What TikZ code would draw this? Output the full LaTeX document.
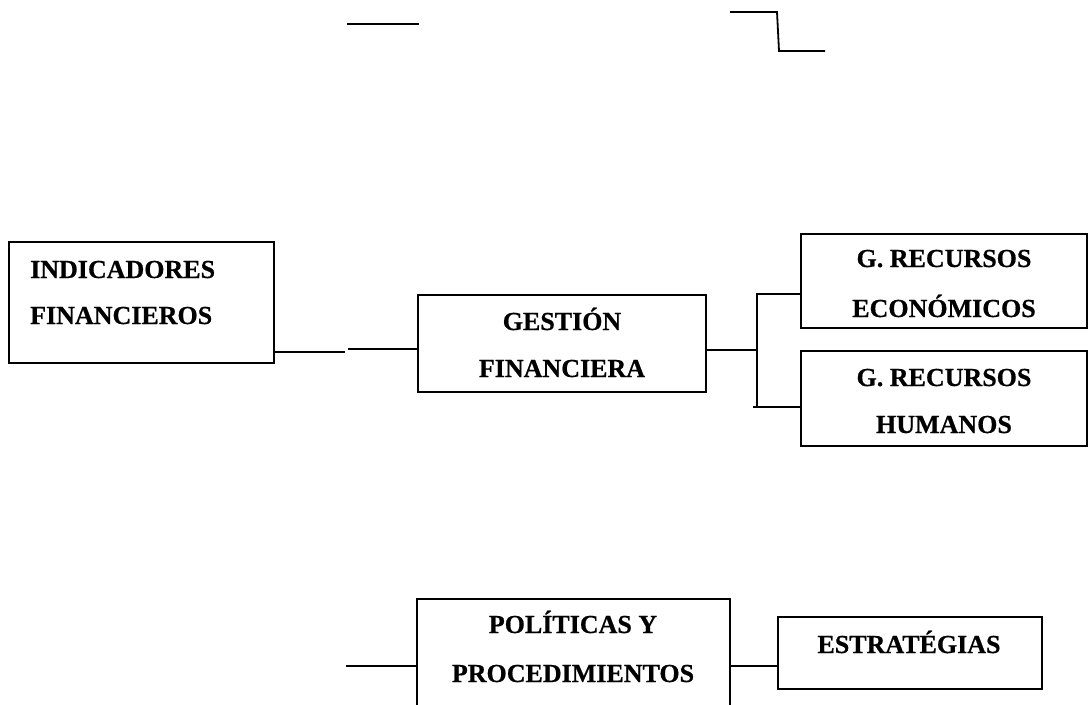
\documentclass[tikz,border=0pt]{standalone}
\usepackage{fontspec}
\newfontfamily\tnr[BoldFeatures={FakeBold=0.6}]{Liberation Serif}
\begin{document}
\begin{tikzpicture}[x=1pt,y=-1pt,
  box/.style={draw, line width=1.8pt, inner sep=0pt, outer sep=0pt, anchor=north west},
  lbl/.style={font=\tnr\bfseries\fontsize{26}{30}\selectfont, inner sep=0pt, anchor=base},
  lblw/.style={lbl, anchor=base west},
  wire/.style={line width=1.8pt}]
\useasboundingbox (0,0) rectangle (1089,704);
\clip (0,0) rectangle (1089,704);
% boxes
\node[box, minimum width=265pt, minimum height=121pt] (ind) at (9,242) {};
\node[box, minimum width=288pt, minimum height=97pt] (gest) at (418,295) {};
\node[box, minimum width=286pt, minimum height=94pt] (eco) at (801,234) {};
\node[box, minimum width=286pt, minimum height=95pt] (hum) at (801,351) {};
\node[box, minimum width=313pt, minimum height=125pt] (pol) at (417,599) {};
\node[box, minimum width=264pt, minimum height=72pt] (est) at (778,617) {};
% texts
\node[lblw] (ind1) at (30,278) {INDICADORES};
\node[lblw] (ind2) at (30,324) {FINANCIEROS};
\node[lbl] (g1) at (562,330) {GESTIÓN};
\node[lbl] (g2) at (562,377) {FINANCIERA};
\node[lbl] (e1) at (944,267) {G. RECURSOS};
\node[lbl] (e2) at (944,317) {ECONÓMICOS};
\node[lbl] (h1) at (944,386) {G. RECURSOS};
\node[lbl] (h2) at (944,433) {HUMANOS};
\node[lbl] (p1) at (573,633) {POLÍTICAS Y};
\node[lbl] (p2) at (573,682) {PROCEDIMIENTOS};
\node[lbl] (s1) at (909,653) {ESTRATÉGIAS};
% connectors
\coordinate (c1) at (345,352);
\coordinate (c2) at (348,349);
\draw[wire] (c1 -| ind.east) -- (c1);
\draw[wire] (c2) -- (c2 -| gest.west);
\coordinate (j) at (757,350);
\coordinate (jt) at (757,294);
\coordinate (jb) at (753,407);
\draw[wire] (j -| gest.east) -- (j);
\draw[wire] (jt -| eco.west) -- (jt) -- (757,407);
\draw[wire] (jb) -- (jb -| hum.west);
\coordinate (pl) at (346,666);
\draw[wire] (pl) -- (pl -| pol.west);
\draw[wire] (pl -| pol.east) -- (pl -| est.west);
% top fragments
\coordinate (t1) at (347,24);
\coordinate (t2) at (419,24);
\draw[wire] (t1) -- (t2);
\coordinate (t3) at (730,12);
\coordinate (t4) at (777,12);
\coordinate (t5) at (779,51);
\coordinate (t6) at (825,51);
\draw[wire] (t3) -- (t4) -- (t5) -- (t6);
\end{tikzpicture}
\end{document}
